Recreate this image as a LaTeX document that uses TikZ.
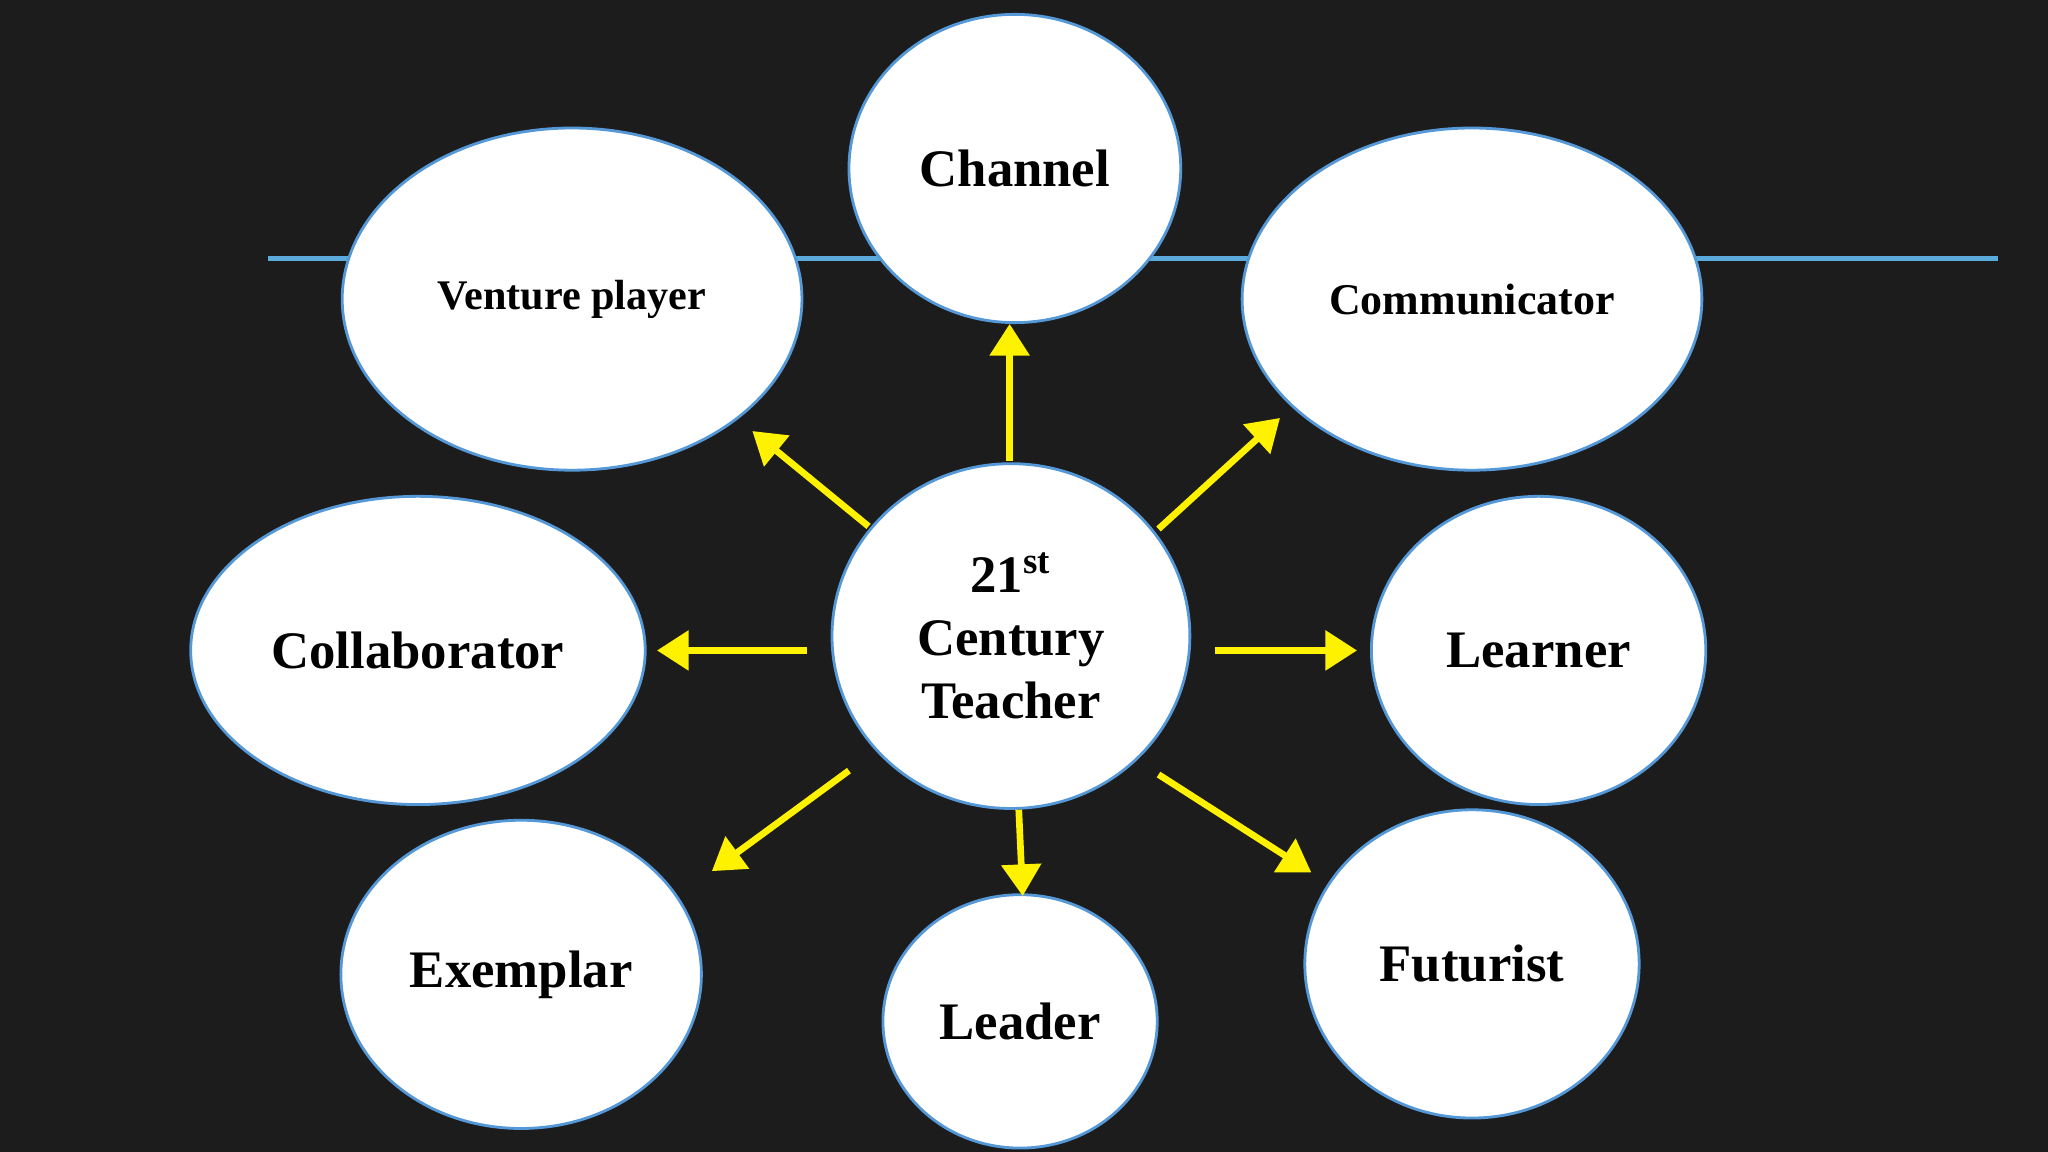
\documentclass[tikz,border=0pt]{standalone}
\usepackage{fontspec}
\setmainfont{Liberation Serif}
\usetikzlibrary{shapes.geometric,arrows.meta}
\begin{document}
\begin{tikzpicture}[x=0.01306cm,y=-0.01306cm,
  bub/.style={ellipse,draw=cyan!60!blue!70,line width=0.8pt,fill=white,inner sep=0pt,align=center},
  sz/.style 2 args={minimum width={#1*0.01306cm},minimum height={#2*0.01306cm}},
  big/.style={font=\bfseries\fontsize{15}{18}\selectfont},
  yarr/.style={draw=yellow,line width=1.9pt,-{Triangle[length=9pt,width=11pt]}}]
\fill[fill={rgb,255:red,28;green,28;blue,28}] (0,0) rectangle (1568,882);
\useasboundingbox (0,0) rectangle (1568,882);
\draw[line width=1.5pt,color={rgb,255:red,90;green,170;blue,220}] (205,198) coordinate(l1) -- (1530,198) coordinate(l2);
\node[bub,sz={254}{236},big] (ch) at (777,129) {Channel};
\node[bub,sz={352}{262},font=\bfseries\fontsize{12}{14}\selectfont] (vp) at (438,229) {Venture player};
\node[bub,sz={352}{262},font=\bfseries\fontsize{12.5}{15}\selectfont] (co) at (1127,229) {Communicator};
\node[bub,sz={348}{236},big] (cl) at (320,498) {Collaborator};
\node[bub,sz={274}{264},font=\bfseries\fontsize{15}{18}\selectfont] (c) at (774,487) {21\textsuperscript{st}\\Century\\Teacher};
\node[bub,sz={256}{236},big] (le) at (1178,498) {Learner};
\node[bub,sz={276}{236},big] (ex) at (399,746) {Exemplar};
\node[bub,sz={210}{194},big] (ld) at (781,782) {Leader};
\node[bub,sz={256}{236},big] (fu) at (1127,738) {Futurist};
\coordinate (a1) at (773,353); \coordinate (b1) at (773,248);
\coordinate (a2) at (665,403); \coordinate (b2) at (576,330);
\coordinate (a3) at (887,405); \coordinate (b3) at (980,320);
\coordinate (a4) at (618,498); \coordinate (b4) at (503,498);
\coordinate (a5) at (930,498); \coordinate (b5) at (1039,498);
\coordinate (a6) at (650,590); \coordinate (b6) at (545,667);
\coordinate (a7) at (780,620); \coordinate (b7) at (783,686);
\coordinate (a8) at (887,593); \coordinate (b8) at (1004,668);
\foreach \i in {1,...,8} \draw[yarr] (a\i) -- (b\i);
\end{tikzpicture}
\end{document}
